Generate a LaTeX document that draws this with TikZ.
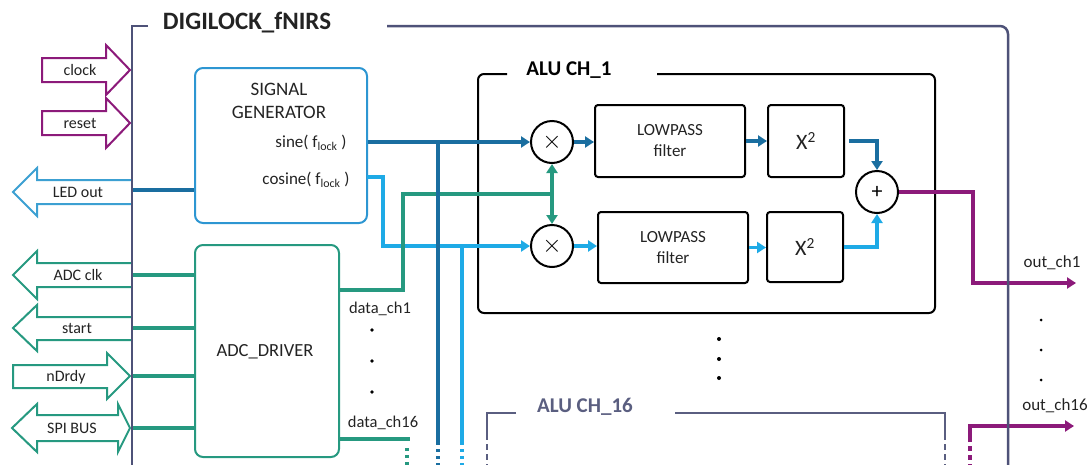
\documentclass[tikz,border=0pt]{standalone}
\usepackage{fontspec}
\setmainfont{Carlito}
\usetikzlibrary{arrows.meta,calc}
\definecolor{cPurple}{RGB}{140,26,122}
\definecolor{cTeal}{RGB}{38,153,128}
\definecolor{cDark}{RGB}{26,110,160}
\definecolor{cLight}{RGB}{30,170,230}
\definecolor{cSG}{RGB}{45,150,210}
\definecolor{cLED}{RGB}{60,160,210}
\definecolor{cFrame}{RGB}{78,82,120}
\definecolor{cSlate}{RGB}{90,94,128}
\definecolor{cText}{RGB}{35,35,35}
\begin{document}
\begin{tikzpicture}[x=1pt,y=-1pt,
  tip/.style={-{Triangle[length=9pt,width=11pt]}},
  dbl/.style={draw=cDark,line width=3.5pt},
  lbl/.style={draw=cLight,line width=3.5pt},
  tln/.style={draw=cTeal,line width=3.5pt},
  pln/.style={draw=cPurple,line width=3.5pt},
  frameline/.style={draw=cFrame,line width=2.5pt},
  blk/.style={draw=black,line width=2pt,rounded corners=3pt,align=center,text=cText,font=\fontsize{17}{21}\selectfont},
  opc/.style={circle,draw=black,line width=2pt,minimum size=42pt,inner sep=0pt,fill=white},
  port/.style={line width=2pt,fill=white,line join=miter},
  plabel/.style={font=\fontsize{16}{18}\selectfont,text=cText,inner sep=0pt},
  dotline/.style={dash pattern=on 3pt off 4pt},
  txt/.style={font=\fontsize{17}{21}\selectfont,text=cText,inner sep=0pt},
  dotmark/.style={fill=black},
]
\useasboundingbox (0,0) rectangle (1092,464);

% ---------- left ports ----------
\draw[port,draw=cPurple] (42,58) -- (106,58) -- (106,45) -- (130,70) -- (106,95) -- (106,82) -- (42,82) -- cycle;
\node[plabel] (lclock) at (80,70) {clock};
\draw[port,draw=cPurple] (42,111) -- (106,111) -- (106,98) -- (130,123) -- (106,148) -- (106,135) -- (42,135) -- cycle;
\node[plabel] (lreset) at (80,123) {reset};
\draw[port,draw=cLED] (132,180) -- (37,180) -- (37,168) -- (13,192) -- (37,216) -- (37,204) -- (132,204);
\node[plabel] (lled) at (78,192) {LED out};
\draw[port,draw=cTeal] (132,263) -- (37,263) -- (37,251) -- (13,275) -- (37,299) -- (37,287) -- (132,287);
\node[plabel] (ladc) at (78,275) {ADC clk};
\draw[port,draw=cTeal] (132,317) -- (37,317) -- (37,305) -- (13,328) -- (37,351) -- (37,340) -- (132,340);
\node[plabel] (lstart) at (77,328) {start};
\draw[port,draw=cTeal] (13,365) -- (107,365) -- (107,353) -- (130,376) -- (107,399) -- (107,388) -- (13,388) -- cycle;
\node[plabel] (lndrdy) at (66,377) {nDrdy};
\draw[port,draw=cTeal] (12,428) -- (37,404) -- (37,415) -- (118,415) -- (118,404) -- (130,428) -- (118,452) -- (118,441) -- (37,441) -- (37,452) -- cycle;
\node[plabel] (lspi) at (72,428) {SPI BUS};

% ---------- main blocks ----------
\node[draw=cSG,line width=2pt,rounded corners=8pt,minimum width=172pt,minimum height=155pt] (sg) at (281,145.5) {};
\node[txt,align=center,font=\fontsize{19}{23}\selectfont] (sgt) at (279,101) {SIGNAL\\GENERATOR};
\node[txt] (sinet) at (311,143) {sine( f\textsubscript{lock} )};
\node[txt] (cost) at (306,180) {cosine( f\textsubscript{lock} )};

\node[draw=cTeal,line width=2pt,rounded corners=8pt,minimum width=144pt,minimum height=212pt] (adc) at (267,351) {};
\node[txt,font=\fontsize{18.5}{22}\selectfont] (adct) at (265,352) {ADC\_DRIVER};

\node[txt,font=\fontsize{16.5}{20}\selectfont] (d1) at (380,309) {data\_ch1};
\node[txt,font=\fontsize{16.5}{20}\selectfont] (d16) at (383,423) {data\_ch16};
\fill[dotmark] (372,330) circle (1.8pt) (372,361) circle (1.8pt) (372,392) circle (1.8pt);

% ---------- ALU CH_1 ----------
\draw[black,line width=2pt,rounded corners=6pt] (507,74) -| (478,313) -| (935,74) -- (657,74);
\node[txt,font=\bfseries\fontsize{21}{24}\selectfont,text=black] (alu1) at (569,70) {ALU CH\_1};

\node[opc] (m1) at (552,142) {};
\node[inner sep=0pt] (m1s) at (m1) {\fontsize{36}{36}\selectfont$\times$};
\node[opc] (m2) at (552,246) {};
\node[inner sep=0pt] (m2s) at (m2) {\fontsize{36}{36}\selectfont$\times$};
\node[blk,minimum width=150pt,minimum height=72pt] (lp1) at (670,141) {LOWPASS\\filter};
\node[blk,minimum width=150pt,minimum height=71pt] (lp2) at (673,247.5) {LOWPASS\\filter};
\node[blk,minimum width=76pt,minimum height=72pt,font=\fontsize{22}{24}\selectfont] (sq1) at (806,141) {X\textsuperscript{2}};
\node[blk,minimum width=76pt,minimum height=70pt,font=\fontsize{22}{24}\selectfont] (sq2) at (805,247) {X\textsuperscript{2}};
\node[opc] (add) at (877,192) {};
\node[inner sep=0pt,font=\fontsize{22}{22}\selectfont] (adds) at (add) {+};

% ---------- signal lines ----------
\coordinate (cosout) at (367,177);
\coordinate (cosbr) at (462,246);
\draw[lbl,tip] (cosout) -- (383,177) |- (m2.west);
\draw[lbl] (cosbr) -- (462,445);
\draw[lbl,dotline] (462,449) -- (462,466);

\coordinate (tj) at (552,194);
\draw[tln] (adc.east |- 0,290) -| (403,194) -- (tj);
\draw[tln,tip] (tj) -- (m1.south);
\draw[tln,tip] (tj) -- (m2.north);
\draw[tln] (adc.east |- 0,439) -- (410,439);
\draw[tln,dotline] (407,448) -- (407,466);

\coordinate (sinebr) at (438,142);
\draw[dbl,tip] (sg.east |- m1) -- (m1.west);
\draw[dbl] (sinebr) -- (438,445);
\draw[dbl,dotline] (438,449) -- (438,466);

\draw[dbl] (sg.west |- 0,190) -- (132,190);
\draw[tln] (adc.west |- 0,275) -- (132,275);
\draw[tln] (adc.west |- 0,328) -- (132,328);
\draw[tln] (adc.west |- 0,376) -- (132,376);
\draw[tln] (adc.west |- 0,428) -- (132,428);

\draw[dbl,tip] (m1.east) -- (m1.east -| lp1.west);
\draw[dbl,tip] (lp1.east) -- (lp1.east -| sq1.west);
\draw[dbl,tip] (sq1.east) ++(4,0) -| (add.north);
\draw[lbl,tip] (m2.east) -- (m2.east -| lp2.west);
\draw[lbl,tip] (lp2.east) -- (lp2.east -| sq2.west);
\draw[lbl,tip] (sq2.east) -| (add.south);

% ---------- outputs ----------
\coordinate (o1) at (1076,283);
\coordinate (o16) at (1074,426);
\draw[pln,tip] (add.east) -- (973,192) |- (o1);
\node[txt] (o1t) at (1052,263) {out\_ch1};
\fill[dotmark] (1041,320) circle (1.5pt) (1041,350) circle (1.5pt) (1041,380) circle (1.5pt);
\node[txt] (o16t) at (1055,406) {out\_ch16};
\draw[pln,tip] (970,442) -- (970,426) -- (o16);
\draw[pln,dash pattern=on 5pt off 4pt] (970,446) -- (970,466);

% middle dots
\fill[dotmark] (719,339) circle (2pt) (719,359) circle (2pt) (719,378) circle (2pt);

% ---------- ALU CH_16 ----------
\draw[cSlate,line width=2pt] (516,413) -| (487,440);
\draw[cSlate,line width=2pt] (675,413) -| (945,440);
\draw[cSlate,line width=2pt,dash pattern=on 6pt off 4pt] (487,444) -- (487,466);
\draw[cSlate,line width=2pt,dash pattern=on 6pt off 4pt] (945,444) -- (945,466);
\node[txt,font=\bfseries\fontsize{21}{24}\selectfont,text=cSlate] (alu16) at (585,407) {ALU CH\_16};

% ---------- outer frame ----------
\draw[frameline] (148,26) -- (132,26) -- (132,470);
\draw[frameline,rounded corners=8pt] (387,26) -| (1008,470);
\node[txt,font=\bfseries\fontsize{25}{28}\selectfont,text=cText] (title) at (247,23) {DIGILOCK\_fNIRS};
\end{tikzpicture}
\end{document}
